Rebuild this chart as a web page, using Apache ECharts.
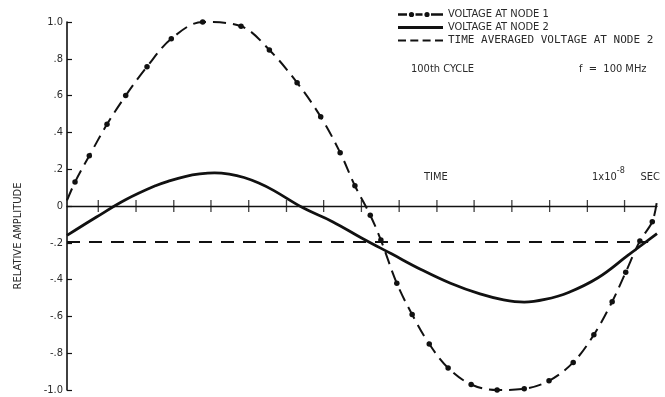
<!DOCTYPE html>
<html>
<head>
<meta charset="utf-8">
<script src="https://cdn.jsdelivr.net/npm/echarts@6/dist/echarts.min.js"></script>
<style>
  html, body { margin: 0; padding: 0; background: #fff; }
  #chart { width: 665px; height: 397px; }
</style>
</head>
<body>
<div id="chart"></div>
<script>
// Time axis in nanoseconds (one cycle = 1x10^-8 s = 10 ns)
const node1Time = [0, 0.136, 0.378, 0.678, 0.995, 1.356, 1.768, 2.30, 2.95, 3.43, 3.90, 4.30, 4.63, 4.88, 5.14, 5.32, 5.59, 5.85, 6.14, 6.46, 6.85, 7.29, 7.75, 8.17, 8.58, 8.93, 9.24, 9.47, 9.71, 9.92, 10.0];
const node1Volt = [0.03, 0.13, 0.273, 0.444, 0.60, 0.757, 0.909, 1.0, 0.977, 0.848, 0.67, 0.485, 0.29, 0.11, -0.05, -0.185, -0.42, -0.59, -0.75, -0.88, -0.97, -1.0, -0.993, -0.95, -0.85, -0.70, -0.52, -0.36, -0.19, -0.085, 0.03];

const node2Time = [0, 0.5, 1.0, 1.5, 1.75, 2.0, 2.25, 2.5, 2.75, 3.0, 3.25, 3.5, 4.0, 4.5, 5.0, 5.5, 6.0, 6.5, 7.0, 7.4, 7.75, 8.1, 8.5, 9.0, 9.5, 10.0];
const node2Volt = [-0.16, -0.06, 0.035, 0.11, 0.138, 0.16, 0.174, 0.18, 0.173, 0.155, 0.125, 0.085, -0.01, -0.085, -0.175, -0.26, -0.345, -0.42, -0.478, -0.51, -0.522, -0.508, -0.47, -0.39, -0.27, -0.15];

const avgTime = [0, 9.85];
const avgVolt = [-0.195, -0.195];

const tickTimes = [0.53, 1.17, 1.81, 2.44, 3.08, 3.72, 4.35, 4.99, 5.63, 6.27, 6.90, 7.54, 8.18, 8.82, 9.45];
const yTickLabels = {'1': '1.0', '0.8': '.8', '0.6': '.6', '0.4': '.4', '0.2': '.2', '0': '0',
  '-0.2': '-.2', '-0.4': '-.4', '-0.6': '-.6', '-0.8': '-.8', '-1': '-1.0'};

const seriesNames = ['VOLTAGE AT NODE 1', 'VOLTAGE AT NODE 2', 'TIME AVERAGED VOLTAGE AT NODE 2'];

const FONT = "'Liberation Sans Narrow', 'DejaVu Sans Condensed', sans-serif";
const MONO = "'DejaVu Sans Mono', monospace";
const INK = '#111';
const TXT = '#2a2a2a';

const zip = (xs, ys) => xs.map((x, i) => [x, ys[i]]);

// Legend keys (45 x 7 box); two hair-sized corner squares pin the box size
const BOX = 'M0,0h0.01v0.01h-0.01z M44.99,6.99h0.01v0.01h-0.01z ';
const dot = (cx, r) => `M${cx - r},3.5 a${r},${r} 0 1,0 ${2 * r},0 a${r},${r} 0 1,0 ${-2 * r},0 z `;
const bar = (x0, x1, h) => `M${x0},${3.5 - h / 2} H${x1} V${3.5 + h / 2} H${x0} z `;
const legendIcons = [
  'path://' + BOX + bar(0, 9, 2.4) + dot(13.5, 2.6) + bar(17.5, 24.5, 2.4) + dot(29, 2.6) + bar(33, 45, 2.4),
  'path://' + BOX + bar(0, 45, 2.8),
  'path://' + BOX + bar(0, 8, 2.2) + bar(12.3, 20.3, 2.2) + bar(24.6, 32.6, 2.2) + bar(37, 45, 2.2)
];

const node1Data = zip(node1Time, node1Volt).map((p, i, arr) =>
  (i === 0 || i === arr.length - 1) ? { value: p, symbol: 'none' } : p);

const chart = echarts.init(document.getElementById('chart'), null, { renderer: 'canvas' });

chart.setOption({
  backgroundColor: '#fff',
  animation: false,
  grid: { left: 67, right: 8, top: 22, bottom: 7, containLabel: false },
  xAxis: {
    type: 'value', min: 0, max: 10,
    axisLine: { show: true, onZero: true, lineStyle: { color: INK, width: 1.3 } },
    axisTick: { show: false },
    axisLabel: { show: false },
    splitLine: { show: false }
  },
  yAxis: {
    type: 'value', min: -1, max: 1, interval: 0.2,
    axisLine: { show: true, lineStyle: { color: INK, width: 1.6 } },
    axisTick: { show: true, inside: true, length: 5, lineStyle: { color: INK, width: 1.2 } },
    axisLabel: {
      margin: 4, fontFamily: FONT, fontSize: 11, color: TXT,
      formatter: v => yTickLabels[String(Math.round(v * 10) / 10)] || ''
    },
    splitLine: { show: false }
  },
  legend: {
    orient: 'vertical', left: 398, top: 8, itemGap: 0, padding: 0,
    itemWidth: 45, itemHeight: 7, symbolKeepAspect: true,
    textStyle: { fontFamily: FONT, fontSize: 11, color: TXT, lineHeight: 13 },
    data: seriesNames.map((n, i) => ({
      name: n,
      icon: legendIcons[i],
      itemStyle: { color: INK, borderWidth: 0 },
      textStyle: i === 2 ? { fontFamily: MONO, fontSize: 11, color: TXT, lineHeight: 13 } : undefined
    }))
  },
  graphic: [
    { type: 'text', left: 411, top: 64, style: { text: '100th CYCLE', font: `11px ${FONT}`, fill: TXT } },
    { type: 'text', left: 579, top: 64, style: { text: 'f  =  100 MHz', font: `11px ${FONT}`, fill: TXT } },
    { type: 'text', left: 424, top: 172, style: { text: 'TIME', font: `11px ${FONT}`, fill: TXT } },
    { type: 'text', left: 592, top: 166, style: {
        text: '{a|1x10}{s|-8}{a|     SEC}',
        rich: {
          a: { fontFamily: FONT, fontSize: 11, fill: TXT, verticalAlign: 'bottom', padding: [6, 0, 0, 0] },
          s: { fontFamily: FONT, fontSize: 9, fill: TXT, verticalAlign: 'top', padding: [0, 0, 6, 0] }
        }
    } },
    { type: 'text', x: 18, y: 236, rotation: Math.PI / 2,
      style: { text: 'RELATIVE AMPLITUDE', font: `11px ${FONT}`, fill: TXT, align: 'center', verticalAlign: 'middle' } }
  ],
  series: [
    {
      name: seriesNames[0], type: 'line', smooth: 0.35,
      data: node1Data,
      symbol: 'circle', symbolSize: 5.5,
      itemStyle: { color: INK },
      lineStyle: { color: INK, width: 2, type: [13, 7] },
      z: 4
    },
    {
      name: seriesNames[1], type: 'line', smooth: 0.4,
      data: zip(node2Time, node2Volt),
      symbol: 'none',
      itemStyle: { color: INK },
      lineStyle: { color: INK, width: 2.8 },
      z: 3
    },
    {
      name: seriesNames[2], type: 'line',
      data: zip(avgTime, avgVolt),
      symbol: 'none',
      itemStyle: { color: INK },
      lineStyle: { color: INK, width: 2, type: [13, 9] },
      z: 2
    },
    {
      name: 'time ticks', type: 'scatter',
      data: tickTimes.map(t => [t, 0]),
      symbol: 'rect', symbolSize: [1.3, 12],
      itemStyle: { color: INK },
      silent: true, z: 5
    }
  ]
});
</script>
</body>
</html>
